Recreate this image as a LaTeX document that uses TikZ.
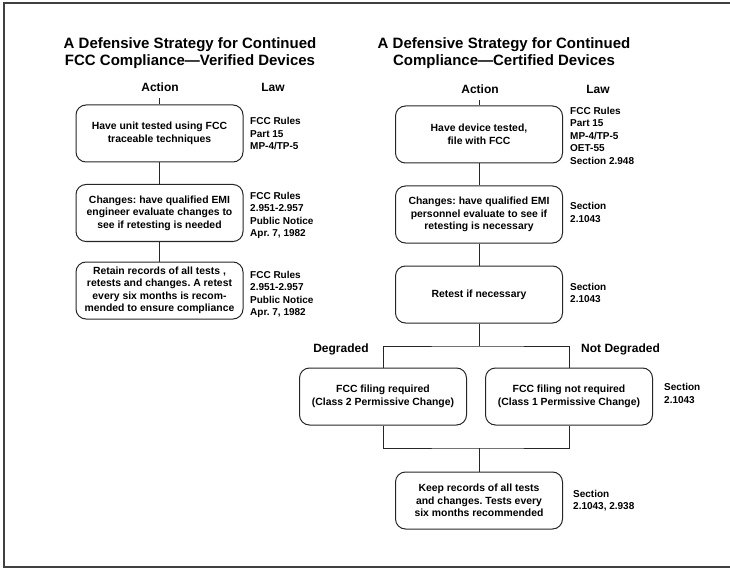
\documentclass[tikz,border=0pt]{standalone}
\usepackage{fontspec}
\setmainfont{Liberation Sans}
\frenchspacing
\begin{document}
\begin{tikzpicture}[x=1pt,y=-1pt,
  box/.style={draw=black!85, line width=1.0pt, rounded corners=10pt, minimum width=167pt, minimum height=57pt, align=center, inner sep=0pt, font=\fontsize{10.4}{12.5}\selectfont\bfseries},
  law/.style={anchor=west, align=left, inner sep=0pt, font=\fontsize{10}{12.5}\selectfont\bfseries},
  head/.style={inner sep=0pt, font=\fontsize{12}{14}\selectfont\bfseries},
  ttl/.style={inner sep=0pt, align=center, font=\fontsize{15}{17}\selectfont\bfseries},
  conn/.style={draw=black!85, line width=0.9pt},
  frame/.style={draw=black!75, line width=1.3pt}]
\useasboundingbox (0,0) rectangle (730,569);
\draw[frame] (730,3) -- (4,3) -- (4,567) -- (730,567);

% titles
\node[ttl] (t1) at (190,53.5) {A Defensive Strategy for Continued\\FCC Compliance---Verified Devices};
\node[ttl] (t2) at (504,53.5) {A Defensive Strategy for Continued\\Compliance---Certified Devices};

% headers
\node[head] (a1) at (160,87) {Action};
\node[head] (w1) at (273,87) {Law};
\node[head] (a2) at (480,89) {Action};
\node[head] (w2) at (598,89) {Law};

% left column
\node[box] (L1) at (159.5,133.5) {Have unit tested using FCC\\traceable techniques};
\node[box] (L2) at (159.5,213) {Changes: have qualified EMI\\engineer evaluate changes to\\see if retesting is needed};
\node[box] (L3) at (159.5,290.5) {Retain records of all tests ,\\retests and changes. A retest\\every six months is recom-\\mended to ensure compliance};
\node[law] (LL1) at (250,133.5) {FCC Rules\\Part 15\\MP-4/TP-5};
\node[law] (LL2) at (250,215.5) {FCC Rules\\2.951-2.957\\Public Notice\\Apr. 7, 1982};
\node[law] (LL3) at (250,294.5) {FCC Rules\\2.951-2.957\\Public Notice\\Apr. 7, 1982};

% right column
\node[box] (R1) at (479,134.5) {Have device tested,\\file with FCC};
\node[box] (R2) at (479,214.5) {Changes: have qualified EMI\\personnel evaluate to see if\\retesting is necessary};
\node[box] (R3) at (479,294.5) {Retest if necessary};
\node[box] (R4) at (383,396.5) {FCC filing required\\(Class 2 Permissive Change)};
\node[box] (R5) at (569,396.5) {FCC filing not required\\(Class 1 Permissive Change)};
\node[box] (R6) at (479,500.5) {Keep records of all tests\\and changes. Tests every\\six months recommended};
\node[law] (RL1) at (570,135.5) {FCC Rules\\Part 15\\MP-4/TP-5\\OET-55\\Section 2.948};
\node[law] (RL2) at (570,212.5) {Section\\2.1043};
\node[law] (RL3) at (570,293) {Section\\2.1043};
\node[law] (RL5) at (664,393.5) {Section\\2.1043};
\node[law] (RL6) at (573,500.5) {Section\\2.1043, 2.938};

\node[head] (deg) at (341,349) {Degraded};
\node[head, anchor=west] (ndeg) at (581,349) {Not Degraded};

% connectors
\coordinate (tk1) at (159.5,98);
\coordinate (tk2) at (479,100);
\coordinate (split) at (479,346);
\coordinate (join) at (479,448);
\draw[conn] (tk1) -- (L1.north);
\draw[conn] (L1.south) -- (L2.north);
\draw[conn] (L2.south) -- (L3.north);
\draw[conn] (tk2) -- (R1.north);
\draw[conn] (R1.south) -- (R2.north);
\draw[conn] (R2.south) -- (R3.north);
\draw[conn] (R3.south) -- (split);
\draw[conn] (R4.north) |- (split) -| (R5.north);
\draw[conn] (R4.south) |- (join) -| (R5.south);
\draw[conn] (join) -- (R6.north);
\end{tikzpicture}
\end{document}
